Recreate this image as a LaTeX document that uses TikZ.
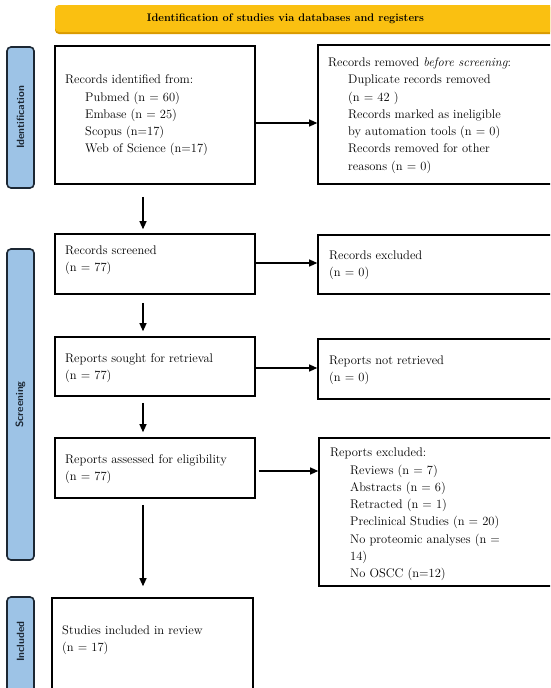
\documentclass[tikz,border=0pt]{standalone}
\usetikzlibrary{arrows.meta}
\definecolor{hdr}{HTML}{FAC011}
\definecolor{hdrsh}{HTML}{D99A00}
\definecolor{side}{HTML}{9DC3E6}
\definecolor{sidebd}{HTML}{1C2733}
\begin{document}
\begin{tikzpicture}[x=1pt,y=-1pt,
  box/.style={draw=black, line width=1.6pt, fill=white, inner sep=0pt},
  txt/.style={align=left, anchor=west, font=\fontsize{12.5}{17.3}\selectfont, inner sep=0pt},
  arr/.style={-{Triangle[length=8pt,width=7pt]}, line width=1.2pt},
  sidebox/.style={draw=sidebd, fill=side, line width=1.6pt, rounded corners=4pt, minimum height=27pt, rotate=90, inner sep=0pt},
  sidetxt/.style={rotate=90, inner sep=0pt, text=sidebd, font=\sffamily\bfseries\fontsize{10.5}{12}\selectfont},
  hdrbox/.style={fill=hdr, rounded corners=4pt, minimum height=27pt, inner sep=0pt},
  hdrtxt/.style={inner sep=0pt, font=\bfseries\fontsize{11}{13}\selectfont}
]
\clip (0,0) rectangle (550,688);
\fill[white] (0,0) rectangle (550,688);
% header
\fill[hdrsh, rounded corners=4pt] (55,7) rectangle (580,34);
\node[hdrbox, minimum width=525pt] (hdr) at (317.5,18.5) {};
\node[hdrtxt] (hdrt) at (285.5,19) {Identification of studies via databases and registers};
% side labels
\node[sidebox, minimum width=141pt] (sid) at (20.5,117.5) {};
\node[sidetxt] (sidt) at (sid.center) {Identification};
\node[sidebox, minimum width=311pt] (sscr) at (20.5,404.5) {};
\node[sidetxt] (sscrt) at (sscr.center) {Screening};
\node[sidebox, minimum width=120pt] (sinc) at (20.5,657) {};
\node[sidetxt] (sinct) at (20.5,641.5) {Included};
% boxes
\node[box, minimum width=200pt, minimum height=138pt] (b1) at (155,115) {};
\node[box, minimum width=242pt, minimum height=139pt] (b2) at (439,114.5) {};
\node[box, minimum width=200pt, minimum height=60pt] (b3) at (155,264) {};
\node[box, minimum width=242pt, minimum height=59pt] (b4) at (439,264.5) {};
\node[box, minimum width=200pt, minimum height=59pt] (b5) at (155,366.5) {};
\node[box, minimum width=242pt, minimum height=60pt] (b6) at (439,369) {};
\node[box, minimum width=200pt, minimum height=60pt] (b7) at (155,468) {};
\node[box, minimum width=241pt, minimum height=148pt] (b8) at (439.5,512) {};
\node[box, minimum width=201pt, minimum height=122pt] (b9) at (152.5,659) {};
% texts
\node[txt] (t1) at (65,115.5) {Records identified from:\\
\hspace*{20pt}Pubmed (n = 60)\\
\hspace*{20pt}Embase (n = 25)\\
\hspace*{20pt}Scopus (n=17)\\
\hspace*{20pt}Web of Science (n=17)};
\node[txt] (t2) at (328,115.5) {Records removed \emph{before screening}:\\
\hspace*{20pt}Duplicate records removed\\
\hspace*{20pt}(n = 42 )\\
\hspace*{20pt}Records marked as ineligible\\
\hspace*{20pt}by automation tools (n = 0)\\
\hspace*{20pt}Records removed for other\\
\hspace*{20pt}reasons (n = 0)};
\node[txt] (t3) at (65,260) {Records screened\\(n = 77)};
\node[txt] (t4) at (329,265.5) {Records excluded\\(n = 0)};
\node[txt] (t5) at (65,368) {Reports sought for retrieval\\(n = 77)};
\node[txt] (t6) at (329,370) {Reports not retrieved\\(n = 0)};
\node[txt] (t7) at (65,469.5) {Reports assessed for eligibility\\(n = 77)};
\node[txt] (t8) at (330,514.5) {Reports excluded:\\
\hspace*{20pt}Reviews (n = 7)\\
\hspace*{20pt}Abstracts (n = 6)\\
\hspace*{20pt}Retracted (n = 1)\\
\hspace*{20pt}Preclinical Studies (n = 20)\\
\hspace*{20pt}No proteomic analyses (n =\\
\hspace*{20pt}14)\\
\hspace*{20pt}No OSCC (n=12)};
\node[txt] (t9) at (62,640) {Studies included in review\\(n = 17)};
% arrows
\draw[arr] ([yshift=-8pt]b1.east) -- ([yshift=-8.5pt]b2.west);
\draw[arr] ([yshift=1pt]b3.east) -- ([yshift=1.5pt]b4.west);
\draw[arr] ([yshift=-1.5pt]b5.east) -- ([yshift=1pt]b6.west);
\draw[arr] ([xshift=3pt,yshift=-3pt]b7.east) -- ([yshift=41pt]b8.west);
\draw[arr] ([xshift=-12pt,yshift=-12pt]b1.south) -- ([xshift=-12pt,yshift=4pt]b3.north);
\draw[arr] ([xshift=-12pt,yshift=-8pt]b3.south) -- ([xshift=-12pt,yshift=5pt]b5.north);
\draw[arr] ([xshift=-12pt,yshift=-6pt]b5.south) -- ([xshift=-12pt,yshift=5pt]b7.north);
\draw[arr] ([xshift=-12pt,yshift=-6pt]b7.south) -- ([xshift=-9.5pt,yshift=11pt]b9.north);
\end{tikzpicture}
\end{document}
